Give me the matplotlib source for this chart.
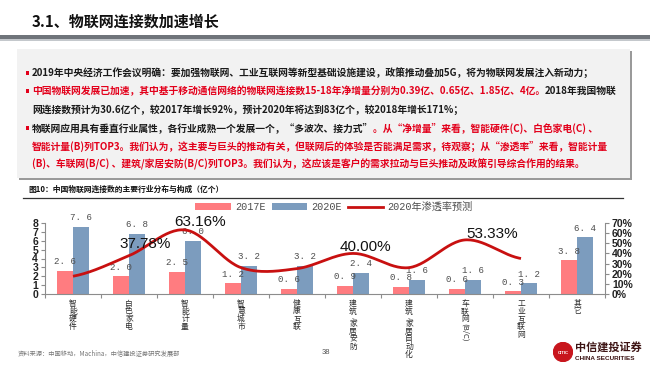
import numpy as np
import matplotlib
matplotlib.use("Agg")
import matplotlib.pyplot as plt
from matplotlib.patches import Rectangle, Patch, Circle
from matplotlib.lines import Line2D

# ---------------- data ----------------
categories = ["智能硬件", "白色家电", "智能计量", "智慧城市", "健康互联",
              "建筑/家居安防", "建筑/家居自动化", "车联网(B/C)", "工业互联网", "其它"]
v2017 = [2.6, 2.0, 2.5, 1.2, 0.6, 0.9, 0.8, 0.6, 0.3, 3.8]
v2020 = [7.6, 6.8, 6.0, 3.2, 3.2, 2.4, 1.6, 1.6, 1.2, 6.4]
penetration = [17.5, 37.78, 63.16, 26.0, 25.0, 40.00, 26.0, 53.33, 35.0]   # %, first 9 categories
labelled = {1: "37.78%", 2: "63.16%", 5: "40.00%", 7: "53.33%"}
left_ticks = [0, 1, 2, 3, 4, 5, 6, 7, 8]
right_ticks = [0, 10, 20, 30, 40, 50, 60, 70]
legend_labels = ["2017E", "2020E", "2020年渗透率预测"]

title = "3.1、物联网连接数加速增长"
caption = "图10：中国物联网连接数的主要行业分布与构成（亿个）"
source = "资料来源：中国移动，Machina，中信建投证券研究发展部"
page_no = "38"

RED_T = "#E3001B"
BLK = "#1a1a1a"
body = [
    (True, [("2019年中央经济工作会议明确：要加强物联网、工业互联网等新型基础设施建设，政策推动叠加5G，将为物联网发展注入新动力；", BLK)]),
    (True, [("中国物联网发展已加速，其中基于移动通信网络的物联网连接数15-18年净增量分别为0.39亿、0.65亿、1.85亿、4亿。", RED_T),
            ("2018年我国物联", BLK)]),
    (False, [("网连接数预计为30.6亿个，较2017年增长92%，预计2020年将达到83亿个，较2018年增长171%；", BLK)]),
    (True, [("物联网应用具有垂直行业属性，各行业成熟一个发展一个，“多波次、接力式”", BLK),
            ("。从“净增量”来看，智能硬件(C)、白色家电(C) 、", RED_T)]),
    (False, [("智能计量(B)列TOP3。我们认为，这主要与巨头的推动有关，但联网后的体验是否能满足需求，待观察；从“渗透率”来看，智能计量", RED_T)]),
    (False, [("(B)、车联网(B/C) 、建筑/家居安防(B/C)列TOP3。我们认为，这应该是客户的需求拉动与巨头推动及政策引导综合作用的结果。", RED_T)]),
]

# ---------------- figure ----------------
W, H = 650, 366
fig = plt.figure(figsize=(W / 100, H / 100), dpi=100)
fig.patch.set_facecolor("white")
CJK = ["Noto Sans CJK SC", "DejaVu Sans"]


def fx(x):
    return x / W


def fy(y):
    return 1 - y / H


renderer = fig.canvas.get_renderer()

# title
fig.text(fx(32), fy(22), title, fontsize=10.8, fontweight="bold", color="#111111",
         family=CJK, va="center", ha="left")
# title rule
fig.patches.append(Rectangle((0, fy(39)), 1, 4 / H, transform=fig.transFigure,
                             facecolor="#6f747a", edgecolor="none"))
fig.patches.append(Rectangle((0, fy(41)), 1, 2 / H, transform=fig.transFigure,
                             facecolor="#c4c8cc", edgecolor="none"))

# grey text box with shadow
bx0, by0, bx1, by1 = 17, 49, 630, 178
fig.patches.append(Rectangle((fx(bx0 + 2), fy(by1 + 2)), (bx1 - bx0) / W, (by1 - by0) / H,
                             transform=fig.transFigure, facecolor="#9a9a9a", edgecolor="none"))
fig.patches.append(Rectangle((fx(bx0), fy(by1)), (bx1 - bx0) / W, (by1 - by0) / H,
                             transform=fig.transFigure, facecolor="#f2f2f2", edgecolor="none"))

# body text lines
line_y = [73, 91, 110, 128, 146, 164]
probe = fig.text(0, 0, body[0][1][0][0], fontsize=7, family=CJK, fontweight="bold")
wprobe = probe.get_window_extent(renderer).width
probe.remove()
fs_body = 7 * 566 / wprobe

for (bullet, segs), y in zip(body, line_y):
    x = 32
    if bullet:
        fig.patches.append(Rectangle((fx(25.5), fy(y + 1.7)), 3 / W, 3.4 / H,
                                     transform=fig.transFigure, facecolor=RED_T, edgecolor="none"))
    for s, c in segs:
        t = fig.text(fx(x), fy(y), s, fontsize=fs_body, family=CJK, fontweight="bold",
                     color=c, va="center", ha="left")
        x += t.get_window_extent(renderer).width

# caption + rule
fig.text(fx(28), fy(189), caption, fontsize=5.6, family=CJK, fontweight="bold",
         color="#111111", va="center", ha="left")
fig.add_artist(Line2D([fx(23), fx(623)], [fy(198), fy(198)], color="#333333", lw=0.9))

# ---------------- chart ----------------
PINK = "#FF7C80"
BLUE = "#7C9CBE"
LINE = "#C81010"

ax = fig.add_axes([fx(45), fy(294), 560 / W, 71 / H])
x = np.arange(len(categories))
bw = 0.29
ax.bar(x - bw / 2, v2017, bw, color=PINK, zorder=2)
ax.bar(x + bw / 2, v2020, bw, color=BLUE, zorder=2)
ax.set_xlim(-0.5, len(categories) - 0.5)
ax.set_ylim(0, 8)
ax.set_yticks(left_ticks)
ax.set_yticklabels([str(t) for t in left_ticks], fontsize=7.5, family="Liberation Sans",
                   fontweight="bold", color="#222222")
for sp in ["top", "right"]:
    ax.spines[sp].set_visible(False)
for sp in ["left", "bottom"]:
    ax.spines[sp].set_color("#8c8c8c")
    ax.spines[sp].set_linewidth(0.8)
ax.tick_params(axis="y", direction="out", length=3, width=0.8, color="#8c8c8c", pad=2)
ax.set_xticks(x)
ax.set_xticklabels([])
ax.tick_params(axis="x", which="major", length=0)
ax.set_xticks(np.arange(-0.5, len(categories), 1.0), minor=True)
ax.tick_params(axis="x", which="minor", direction="out", length=3, width=0.8, color="#8c8c8c")

# bar value labels
for i in range(len(categories)):
    for off, v in ((-bw / 2, v2017[i]), (bw / 2, v2020[i])):
        ax.annotate(f"{v:.1f}".replace(".", ". "), xy=(i + off, v), xytext=(0, 6.5),
                    textcoords="offset points", ha="center", va="center",
                    fontsize=6.6, family="Liberation Mono", color="#4d4d4d", zorder=5)

# vertical category labels (stacked characters)
xt = ax.get_xaxis_transform()
PITCH = 5.6
LFS = 5.6
for i, lab in enumerate(categories):
    main, paren = lab, ""
    if "(" in lab:
        main, paren = lab[:lab.index("(")], lab[lab.index("("):]
    pos = -7.0
    for ch in main:
        if ch == "/":
            ax.annotate(ch, xy=(i, 0), xycoords=xt, xytext=(0, pos + PITCH * 0.2),
                        textcoords="offset points", ha="center", va="center", rotation=-90,
                        fontsize=4.2, family=CJK, color="#333333", annotation_clip=False)
            pos -= PITCH * 0.6
            continue
        ax.annotate(ch, xy=(i, 0), xycoords=xt, xytext=(0, pos),
                    textcoords="offset points", ha="center", va="center",
                    fontsize=LFS, family=CJK, color="#2b2b2b", annotation_clip=False)
        pos -= PITCH
    if paren:
        ax.annotate(paren, xy=(i, 0), xycoords=xt, xytext=(0, pos + PITCH * 0.5),
                    textcoords="offset points", ha="center", va="top", rotation=-90,
                    fontsize=LFS, family=CJK, color="#2b2b2b", annotation_clip=False)

# penetration line (right axis) drawn as a smoothed curve through the points
ax2 = ax.twinx()
ax2.set_ylim(0, 70)
ax2.set_yticks(right_ticks)
ax2.set_yticklabels([f"{t}%" for t in right_ticks], fontsize=7.5, family="Liberation Sans",
                    fontweight="bold", color="#222222")
for sp in ["top", "left", "bottom"]:
    ax2.spines[sp].set_visible(False)
ax2.spines["right"].set_color("#8c8c8c")
ax2.spines["right"].set_linewidth(0.8)
ax2.tick_params(axis="y", direction="out", length=3, width=0.8, color="#8c8c8c", pad=2)


def catmull_rom(xs, ys, n=30, tension=0.5):
    xs = np.asarray(xs, float)
    ys = np.asarray(ys, float)
    px = np.concatenate([[2 * xs[0] - xs[1]], xs, [2 * xs[-1] - xs[-2]]])
    py = np.concatenate([[ys[0]], ys, [ys[-1]]])
    outx, outy = [], []
    for i in range(1, len(px) - 2):
        t = np.linspace(0, 1, n, endpoint=False)
        m1 = tension * (py[i + 1] - py[i - 1])
        m2 = tension * (py[i + 2] - py[i])
        h00 = 2 * t**3 - 3 * t**2 + 1
        h10 = t**3 - 2 * t**2 + t
        h01 = -2 * t**3 + 3 * t**2
        h11 = t**3 - t**2
        outy.append(h00 * py[i] + h10 * m1 + h01 * py[i + 1] + h11 * m2)
        outx.append(px[i] + t * (px[i + 1] - px[i]))
    outx.append([xs[-1]])
    outy.append([ys[-1]])
    return np.concatenate(outx), np.concatenate(outy)


px_, py_ = catmull_rom(np.arange(len(penetration)), penetration)
ax2.plot(px_, py_, color=LINE, lw=2.0, zorder=4, solid_capstyle="butt")
offsets = {1: (11.5, 8.6), 2: (10.8, 5.5), 5: (8.6, 4.3), 7: (19.4, 4.3)}
for i, s in labelled.items():
    ax2.annotate(s, xy=(i, penetration[i]), xytext=offsets[i], textcoords="offset points",
                 ha="center", va="center", fontsize=11, family="Liberation Sans",
                 color="#111111", zorder=6)

# legend
handles = [Patch(facecolor=PINK, edgecolor="none"), Patch(facecolor=BLUE, edgecolor="none"),
           Line2D([0], [0], color=LINE, lw=2.0)]
leg = fig.legend(handles, legend_labels, loc="center", bbox_to_anchor=(fx(334), fy(207)),
                 ncol=3, frameon=False, handlelength=3.5, handleheight=0.7, handletextpad=0.4,
                 columnspacing=0.6, borderpad=0.1,
                 prop={"family": ["Liberation Mono", "Noto Sans CJK SC"], "size": 7.3})
for t in leg.get_texts():
    t.set_color("#4d4d4d")

# footer
fig.text(fx(18), fy(353), source, fontsize=4.5, family=CJK, style="italic", color="#777777",
         va="center", ha="left")
fig.text(fx(322), fy(353), page_no, fontsize=5.5, family="Liberation Sans", color="#555555",
         va="center", ha="left")
# logo
logo_ax = fig.add_axes([fx(553), fy(362), 20 / W, 20 / H])
logo_ax.set_xlim(-1, 1)
logo_ax.set_ylim(-1, 1)
logo_ax.set_aspect("equal")
logo_ax.axis("off")
logo_ax.add_patch(Circle((0, 0), 0.95, color="#C8161D"))
logo_ax.text(0, -0.05, "CITIC", fontsize=3.2, color="white", ha="center", va="center",
             fontweight="bold", family="Liberation Sans")
fig.text(fx(575), fy(347), "中信建投证券", fontsize=8, family=CJK, fontweight="bold",
         color="#3d1414", va="center", ha="left")
fig.text(fx(575), fy(358), "CHINA SECURITIES", fontsize=4.6, family="Liberation Sans",
         fontweight="bold", color="#3d1414", va="center", ha="left")

fig.savefig("out.png", dpi=100)
